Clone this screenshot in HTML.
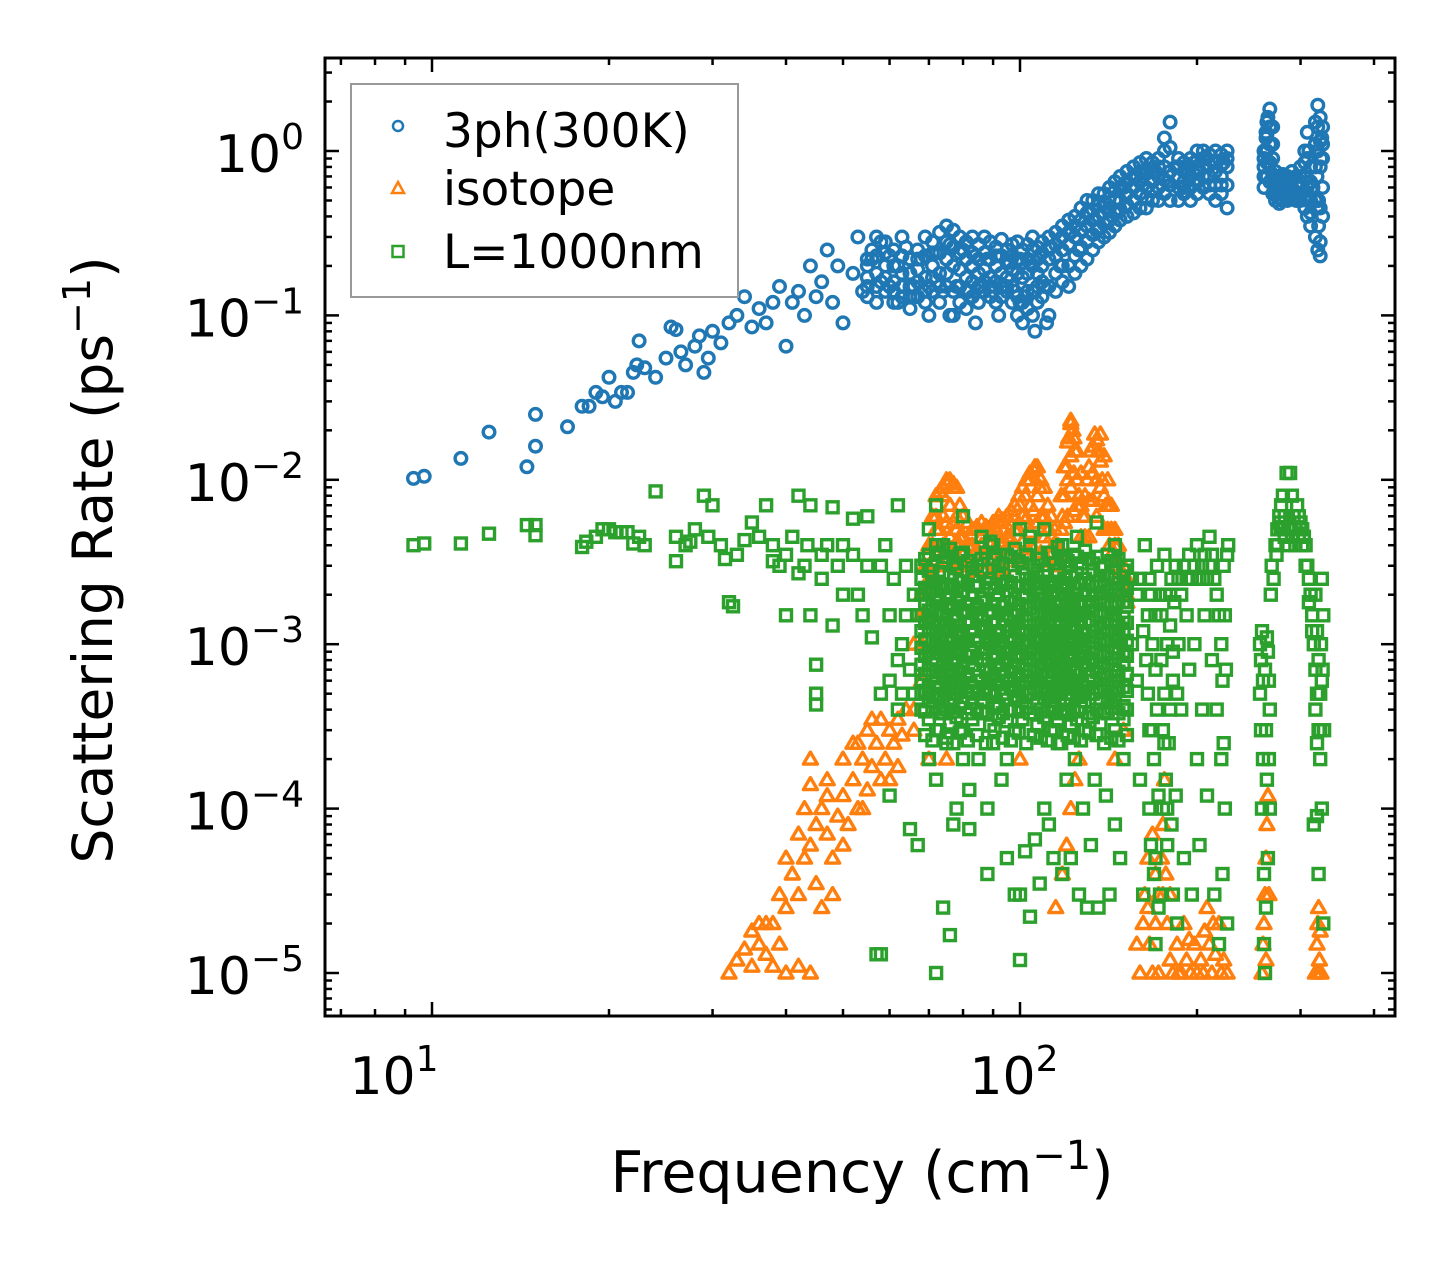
<!DOCTYPE html>
<html><head><meta charset="utf-8"><style>
html,body{margin:0;padding:0;background:#fff;}
svg{display:block;font-family:"DejaVu Sans","Liberation Sans",sans-serif;}
</style></head><body>
<svg id="chart" width="1455" height="1265" viewBox="0 0 1455 1265" xmlns="http://www.w3.org/2000/svg">
<rect x="0" y="0" width="1455" height="1265" fill="#fff"/>
<g id="marks"></g>
<g id="axes"></g>
<text x="862" y="1192" font-size="57" text-anchor="middle">Frequency (cm<tspan font-size="40" dy="-23">−1</tspan><tspan dy="23">)</tspan></text>
<text transform="translate(112,560) rotate(-90)" font-size="55" text-anchor="middle">Scattering Rate (ps<tspan font-size="38" dy="-22">−1</tspan><tspan dy="22">)</tspan></text>
<g>
<rect x="351" y="84" width="387" height="213" fill="#fff" fill-opacity="0.8" stroke="#999" stroke-width="2"/>
<circle cx="398" cy="126" r="5" fill="none" stroke="#1f77b4" stroke-width="2.5"/>
<text x="443" y="147" font-size="47">3ph(300K)</text>
<path d="M398,182 L404,193 L392,193 Z" fill="none" stroke="#ff7f0e" stroke-width="2.5"/>
<text x="443" y="205" font-size="47">isotope</text>
<rect x="392.5" y="246" width="11" height="11" fill="none" stroke="#2ca02c" stroke-width="2.5"/>
<text x="443" y="268" font-size="47">L=1000nm</text>
</g>
</svg>
<script>
// ---- data ----
const freq3phSparse=[9.3,9.7,11.2,12.5,14.5,15,15,17,18,18.5,19,19.5,20,20.5,21,21.5,22,22.3,22.5,23,24,25,25.5,26,26.5,27,28,28.5,29,29.5,30,31,32,33,34,35,36,37,38,39,40,41,42,43,44,45,46,47,48,49,50,52,53,54,56,58,60,62];
const rate3phSparse=[0.0102,0.0105,0.0135,0.0195,0.012,0.016,0.025,0.021,0.028,0.028,0.034,0.032,0.042,0.03,0.034,0.034,0.045,0.05,0.07,0.048,0.042,0.055,0.085,0.082,0.06,0.05,0.065,0.075,0.045,0.055,0.08,0.068,0.09,0.1,0.13,0.085,0.11,0.09,0.12,0.15,0.065,0.12,0.14,0.1,0.2,0.13,0.16,0.25,0.12,0.2,0.09,0.18,0.3,0.14,0.22,0.28,0.15,0.12];
const freq3phBand=[55,57,59,61,63,65,67,69,71,73,75,77,79,81,83,85,87,89,91,93,95,97,99,101,103,105,107,109,112,115,118,121,124,127,130,133,136,139,142,145,148,152,156,160,164,168,172,176,180,186,190,195,200,205,210,215,220,225,260,263,266,269,272,276,280,285,290,295,300,305,308,312,318,321,324,327];
const rate3phHigh=[0.22,0.3,0.28,0.25,0.3,0.22,0.25,0.3,0.28,0.32,0.35,0.33,0.3,0.28,0.3,0.27,0.3,0.28,0.26,0.29,0.25,0.27,0.28,0.25,0.27,0.3,0.26,0.28,0.3,0.32,0.35,0.38,0.4,0.45,0.5,0.5,0.55,0.55,0.6,0.65,0.7,0.75,0.8,0.85,0.9,0.85,0.9,1.2,1.5,0.9,0.85,0.9,1.0,1.0,0.95,1.0,0.95,1.0,1.0,1.5,1.8,1.4,0.75,0.7,0.72,0.7,0.75,0.7,0.8,1.0,1.3,0.8,1.5,1.9,1.6,1.4];
const rate3phUpperMid=[0.2,0.23,0.24,0.2,0.23,0.18,0.22,0.23,0.24,0.24,0.28,0.26,0.24,0.22,0.24,0.22,0.24,0.22,0.23,0.23,0.21,0.23,0.22,0.21,0.22,0.25,0.22,0.24,0.26,0.27,0.3,0.32,0.35,0.38,0.42,0.44,0.47,0.49,0.52,0.57,0.6,0.65,0.7,0.75,0.73,0.75,0.8,1.0,1.05,0.8,0.75,0.8,0.87,0.9,0.82,0.87,0.82,0.9,0.9,1.25,1.4,1.1,0.67,0.62,0.66,0.62,0.67,0.62,0.7,0.85,0.9,0.65,1.1,1.4,1.15,1.1];
const rate3phMid=[0.17,0.18,0.2,0.16,0.18,0.15,0.19,0.17,0.2,0.18,0.22,0.2,0.19,0.17,0.2,0.18,0.19,0.17,0.2,0.18,0.17,0.19,0.18,0.17,0.18,0.2,0.18,0.2,0.22,0.23,0.25,0.27,0.3,0.33,0.35,0.38,0.4,0.42,0.45,0.5,0.5,0.55,0.6,0.65,0.6,0.65,0.7,0.8,0.75,0.7,0.65,0.7,0.75,0.8,0.7,0.75,0.7,0.8,0.8,1.0,1.1,0.9,0.6,0.55,0.6,0.55,0.6,0.55,0.6,0.7,0.6,0.5,0.8,1.0,0.8,0.9];
const rate3phLowerMid=[0.15,0.15,0.17,0.14,0.15,0.13,0.16,0.14,0.17,0.15,0.18,0.14,0.15,0.14,0.16,0.15,0.16,0.15,0.16,0.15,0.15,0.15,0.13,0.12,0.14,0.14,0.15,0.16,0.15,0.18,0.2,0.2,0.23,0.26,0.28,0.31,0.34,0.36,0.38,0.42,0.44,0.47,0.5,0.55,0.52,0.57,0.6,0.67,0.62,0.6,0.6,0.6,0.65,0.7,0.62,0.62,0.62,0.62,0.7,0.85,0.85,0.72,0.55,0.52,0.55,0.52,0.56,0.52,0.55,0.57,0.5,0.42,0.5,0.5,0.45,0.6];
const rate3phLow=[0.13,0.12,0.14,0.12,0.13,0.11,0.13,0.12,0.14,0.12,0.15,0.1,0.12,0.11,0.13,0.12,0.14,0.13,0.12,0.13,0.14,0.12,0.1,0.09,0.11,0.1,0.12,0.13,0.1,0.14,0.16,0.15,0.18,0.2,0.22,0.25,0.28,0.3,0.32,0.35,0.38,0.4,0.42,0.45,0.45,0.5,0.5,0.55,0.5,0.5,0.55,0.5,0.55,0.6,0.55,0.5,0.55,0.45,0.6,0.7,0.65,0.55,0.5,0.48,0.5,0.5,0.52,0.5,0.5,0.45,0.4,0.35,0.3,0.25,0.28,0.4];
const freq3phExtra=[56,60,64,68,72,76,80,84,88,92,96,100,104,108,113,117,122,126,131,135,140,146,150,158,165,170,178,184,192,198,207,213,222,262,270,300,315,320,326,322,324,76,84,92,100,106,111,66,70,58,62,66,70,74,78,82,86,90,94,98,102,106,110,262,264,266,310,314,318,320,322,325];
const rate3phExtra=[0.25,0.23,0.26,0.22,0.24,0.27,0.25,0.23,0.22,0.23,0.21,0.22,0.21,0.23,0.26,0.2,0.32,0.25,0.42,0.33,0.48,0.42,0.6,0.7,0.75,0.75,0.65,0.8,0.75,0.85,0.9,0.85,0.85,1.2,0.7,0.65,0.6,0.45,1.2,0.35,0.23,0.1,0.09,0.1,0.12,0.08,0.09,0.13,0.1,0.16,0.2,0.15,0.15,0.14,0.15,0.14,0.15,0.14,0.15,0.14,0.13,0.14,0.15,1.3,1.6,0.85,1.0,0.6,1.1,0.7,0.5,0.9];

const freqIso=[32,33,34,35,36,37,38,38,39,40,40,41,42,42,43,43,44,44,45,45,46,47,47,48,49,50,50,51,52,53,53,54,55,55,56,57,58,58,59,60,61,62,63,64,40,42,44,46,48,37,39,36,35,44,47,52,56,60,62,50,54,68,70,72,74,75,76,77,78,79,80,82,84,86,88,90,92,94,96,98,100,102,104,106,108,110,112,114,116,118,120,121,122,123,124,125,126,128,130,132,134,136,138,140,142,144,66,68,66,66,70,75,100,115,118,120,122,124,126,145,150,158,160,162,163,165,166,168,170,172,174,175,176,177,178,180,182,185,188,190,192,195,198,200,203,206,208,210,212,215,218,220,222,225,165,170,175,180,168,172,186,194,205,213,258,259,260,261,262,263,264,262,265,318,320,321,322,323,324,325,322];
const rateIso=[1e-5,1.2e-5,1.4e-5,1.1e-5,2e-5,1.3e-5,2e-5,1.1e-5,3e-5,2.5e-5,5e-5,4e-5,7e-5,3e-5,1e-4,5e-5,1.4e-4,6e-5,8e-5,3.5e-5,1e-4,7e-5,1.5e-4,5e-5,9e-5,1.2e-4,2e-4,8e-5,1.5e-4,2.5e-4,1e-4,2e-4,3e-4,1.3e-4,1.8e-4,2.5e-4,3.5e-4,1.5e-4,2e-4,3e-4,2.5e-4,3.5e-4,2.8e-4,4e-4,1e-5,1.1e-5,1e-5,2.5e-5,3e-5,2e-5,1.5e-5,1.5e-5,1.8e-5,2e-4,1.2e-4,2.5e-4,3.5e-4,1.5e-4,1.8e-4,6e-5,1e-4,1.5e-3,3e-3,6e-3,8e-3,1e-2,7e-3,9e-3,5e-3,4e-3,3e-3,4e-3,5e-3,4.5e-3,5e-3,5.5e-3,6e-3,5e-3,4.5e-3,6e-3,7e-3,8e-3,1e-2,1.2e-2,9e-3,6e-3,5e-3,4e-3,3e-3,6e-3,1.2e-2,1.8e-2,2.3e-2,2e-2,1.5e-2,1e-2,8e-3,6e-3,1e-2,1.5e-2,1.9e-2,1.5e-2,1e-2,7e-3,4e-3,3e-3,1e-3,6e-4,4e-4,3e-4,2e-4,2e-4,2e-4,2.5e-5,4e-5,6e-5,1e-4,1.5e-4,2e-4,2e-4,3e-4,1.5e-5,1e-5,2e-5,3e-5,5e-5,1.5e-5,1e-5,2e-5,1e-5,5e-5,8e-5,1.5e-4,4e-5,2e-5,1.2e-5,1e-5,1.5e-5,1e-5,2e-5,1.2e-5,1e-5,1.5e-5,1e-5,1.2e-5,1.8e-5,2.5e-5,1.5e-5,1e-5,1.3e-5,2e-5,1e-5,1.2e-5,1e-5,2.5e-5,4e-5,3e-5,3e-5,7e-5,3e-5,1e-5,1.6e-5,1e-5,2e-5,1e-5,1.5e-5,2e-5,3e-5,5e-5,8e-5,1.2e-4,1.2e-5,3e-5,1e-5,1.5e-5,2e-5,2.5e-5,1.2e-5,1.8e-5,1e-5,1e-5];
const bandFreq=[68,70,72,74,76,78,80,83,86,89,92,95,98,101,104,107,110,113,116,119,122,125,129,133,137,141,145,150];
const bandFreqB=[69,71,73,75,77,79,81.5,84.5,87.5,90.5,93.5,96.5,99.5,102.5,105.5,108.5,111.5,114.5,117.5,120.5,123.5,127,131,135,139,143,147,152];
const isoTop=[2e-3,4e-3,8e-3,9e-3,1e-2,9e-3,6e-3,5e-3,5.5e-3,5e-3,5.5e-3,6e-3,7e-3,9e-3,1.1e-2,1.2e-2,9e-3,6e-3,4e-3,1.2e-2,2.2e-2,1.5e-2,8e-3,1.6e-2,1.9e-2,1e-2,5e-3,3e-3];
const isoMid=[1.5e-3,3e-3,5e-3,6e-3,7e-3,6e-3,4.5e-3,4e-3,4e-3,4e-3,4.2e-3,4.5e-3,5e-3,6e-3,7e-3,8e-3,6e-3,4.5e-3,3.5e-3,8e-3,1.4e-2,1e-2,6e-3,1.1e-2,1.3e-2,7e-3,4e-3,2.5e-3];
const isoLow=[1e-3,2.5e-3,3.5e-3,4e-3,4.5e-3,4e-3,3.5e-3,3.2e-3,3.2e-3,3.2e-3,3.3e-3,3.5e-3,3.8e-3,4.2e-3,4.8e-3,5.5e-3,4.5e-3,3.5e-3,3e-3,5.5e-3,9e-3,7e-3,4.5e-3,7.5e-3,9e-3,5e-3,3.2e-3,2e-3];
const isoB1=[3e-3,6e-3,8.5e-3,9.5e-3,9.5e-3,7e-3,5.5e-3,5.2e-3,5.2e-3,5.2e-3,5.7e-3,6.5e-3,8e-3,1e-2,1.15e-2,1e-2,7e-3,5e-3,8e-3,1.7e-2,1.8e-2,1.1e-2,1.2e-2,1.75e-2,1.4e-2,7e-3,4e-3,2.5e-3];
const isoB2=[2e-3,4e-3,5e-3,5.5e-3,5.5e-3,4.5e-3,4e-3,3.8e-3,3.8e-3,3.8e-3,4e-3,4.3e-3,5e-3,5.8e-3,6.5e-3,6e-3,5e-3,4e-3,5e-3,1e-2,1.1e-2,7e-3,7.5e-3,1e-2,8e-3,5e-3,3e-3,2e-3];
const isoB3=[1.5e-3,2.5e-3,3e-3,3.2e-3,3.2e-3,3e-3,2.8e-3,2.8e-3,2.8e-3,2.8e-3,2.9e-3,3e-3,3.2e-3,3.5e-3,3.8e-3,3.6e-3,3.2e-3,3e-3,3.5e-3,6e-3,6.5e-3,4.5e-3,4.5e-3,6e-3,5e-3,3.5e-3,2.5e-3,1.8e-3];

const freqBdy=[9.3,9.7,11.2,12.5,14.5,15,15,18,18.3,19,19.5,20,20.5,21,21.5,22,22.5,23,24,26,26,27,27.5,28,29,29.5,30,31,31.5,32,32.5,33,34,35,36,37,38,38,39,40,40,41,42,42,43,43.5,44,44,45,45,45,46,46,47,48,48,49,50,50,52,52,53,54,55,55,56,57,58,58,59,60,60,61,62,62,63,63,64,65,65,66,67,
70,72,75,78,80,82,85,88,90,93,95,98,100,102,104,106,108,110,112,114,116,118,120,122,124,126,128,130,132,134,136,140,142,145,148,150,74,76,58,72,100,68,70,72,74,80,86,90,100,104,110,118,125,135,145,66,67,80,60,62,64,82,95,77,88,
152,155,155,158,158,160,160,162,162,163,164,165,165,166,166,167,167,168,168,169,169,170,170,170,171,171,172,172,173,174,175,175,176,176,177,177,178,178,179,180,180,181,181,182,182,183,184,184,186,186,188,188,190,190,192,192,194,194,196,196,198,198,200,200,202,202,204,204,206,206,208,208,210,210,212,212,214,214,216,216,218,218,220,220,221,221,222,222,223,223,224,225,225,226,166,174,180,182,185,176,170,173,178,185,
256,256,257,257,258,258,259,259,260,260,261,261,262,262,263,263,264,264,265,265,266,266,267,268,270,
272,274,276,278,280,282,284,286,288,290,292,294,296,298,300,302,304,306,308,310,312,314,316,318,320,322,324,326,328,328,274,278,282,286,290,294,298,302,306,310,314,318,320,322,324,326,318,320,316,320,322,324,326,325,327,329,273,277,281];
const rateBdy=[4e-3,4.1e-3,4.1e-3,4.7e-3,5.3e-3,4.6e-3,5.3e-3,3.9e-3,4.2e-3,4.5e-3,5e-3,5e-3,4.8e-3,4.8e-3,4.8e-3,4.1e-3,4.5e-3,4e-3,8.5e-3,4.5e-3,3.2e-3,4e-3,4.2e-3,5e-3,8e-3,4.5e-3,7e-3,4e-3,3.3e-3,1.8e-3,1.7e-3,3.5e-3,4.3e-3,5.5e-3,4.5e-3,7e-3,3.2e-3,4e-3,3e-3,1.5e-3,3.5e-3,4.5e-3,2.7e-3,8e-3,3e-3,4e-3,7e-3,1.5e-3,7.5e-4,5e-4,4.3e-4,2.5e-3,3.5e-3,4e-3,6.8e-3,1.3e-3,3e-3,4e-3,2e-3,5.8e-3,3.5e-3,2e-3,1.5e-3,6e-3,3e-3,1.1e-3,1.3e-5,3e-3,5e-4,4e-3,1.5e-3,1.2e-4,2.5e-3,4e-4,7e-3,1e-3,5e-4,3e-3,7e-4,7.5e-5,2e-3,6e-5,
2e-4,1.5e-4,2.5e-4,1e-4,3e-4,1.3e-4,2e-4,1e-4,2.5e-4,1.5e-4,2e-4,3e-5,1.2e-5,5.5e-5,2.2e-5,6.5e-5,3.5e-5,1e-4,8e-5,5e-5,2.5e-4,4e-5,1.5e-4,5e-5,2e-4,3e-5,1e-4,2.5e-5,6e-5,1.5e-4,2.5e-5,1.2e-4,3e-5,8e-5,5e-5,2e-4,2.5e-5,1.7e-5,1.3e-5,1e-5,3e-5,3e-3,5e-3,7e-3,4e-3,6e-3,4.5e-3,4e-3,5e-3,4e-3,5e-3,4e-3,4.5e-3,5.5e-3,4e-3,5e-4,1.5e-3,2e-4,6e-4,8e-4,1.5e-3,7.5e-5,5e-5,8e-5,4e-5,
3e-3,2.5e-3,1e-3,2e-3,6e-4,2.5e-3,1.5e-4,1.2e-3,3e-5,4e-3,8e-4,1.5e-3,5e-4,3e-4,1e-4,2e-3,6e-5,1e-3,3e-4,2e-4,4e-5,1.5e-3,7e-4,1.5e-5,3e-3,4e-4,1.2e-4,2.5e-5,2e-3,8e-4,3e-4,1e-4,5e-4,3.5e-3,2e-3,1.5e-4,1e-3,6e-5,2.5e-4,4e-4,1.3e-3,2.5e-3,8e-5,6e-4,3e-5,1.8e-3,3e-3,1.2e-4,2.5e-3,1e-3,2e-3,4e-4,3e-3,5e-5,2.5e-3,1.5e-3,3.5e-3,7e-4,2.5e-3,3e-5,3e-3,1e-3,4e-3,2e-4,2.5e-3,6e-5,3e-3,4e-4,3.5e-3,1.5e-3,2.5e-3,1.2e-4,4.5e-3,3e-3,3.5e-3,8e-4,2.5e-3,3e-5,2e-3,4e-4,1.5e-3,1.5e-5,1e-3,2e-4,6e-4,4e-5,3e-3,2.5e-4,1.5e-3,1e-4,7e-4,3.5e-3,2e-5,4e-3,2.5e-3,1.5e-3,2e-3,9e-4,5e-4,2.5e-4,5e-5,3e-5,1e-4,2e-5,
1e-3,5e-4,8e-4,3e-4,1e-4,1.2e-3,6e-4,2e-4,4e-5,1.5e-5,7e-4,1e-5,3e-4,2.5e-5,1.5e-4,1.1e-3,5e-5,9e-4,2e-4,6e-4,1e-4,4e-4,2e-3,3e-3,2.5e-3,
4e-3,5e-3,6e-3,7e-3,8e-3,6e-3,1.1e-2,5e-3,1.1e-2,8e-3,6e-3,5e-3,7e-3,6e-3,5.5e-3,5e-3,4.5e-3,4e-3,3e-3,2.5e-3,2e-3,1.5e-3,1e-3,7e-4,5e-4,3e-4,2e-4,1e-4,1.5e-3,2e-5,4e-3,5e-3,4.5e-3,4e-3,4.5e-3,4e-3,4.5e-3,4e-3,3e-3,1.8e-3,1.2e-3,2e-3,1.2e-3,8e-4,5e-4,6e-4,4e-4,2.5e-4,8e-5,9e-5,4e-5,3e-4,2.5e-3,1e-3,7e-4,3e-4,3.5e-3,5.5e-3,5e-3];
const bdyRow1=[3.0e-3,3.5e-3,4.0e-3,3.2e-3,3.8e-3,3.1e-3,3.6e-3,2.9e-3,3.3e-3,4.2e-3,3.0e-3,3.5e-3,3.8e-3,3.1e-3,4.5e-3,3.3e-3,2.8e-3,3.6e-3,3.9e-3,3.2e-3,3.0e-3,3.4e-3,3.7e-3,3.1e-3,2.9e-3,3.5e-3,3.2e-3,2.8e-3];
const bdyRow2=[2.5e-3,2.8e-3,2.4e-3,2.7e-3,2.6e-3,2.9e-3,2.4e-3,2.6e-3,2.8e-3,2.5e-3,2.7e-3,2.4e-3,2.6e-3,2.9e-3,2.5e-3,2.7e-3,2.6e-3,2.4e-3,2.8e-3,2.5e-3,2.6e-3,2.7e-3,2.5e-3,2.8e-3,2.4e-3,2.6e-3,2.5e-3,2.3e-3];
const bdyRow3=[2.0e-3,2.1e-3,1.9e-3,2.2e-3,2.0e-3,1.9e-3,2.1e-3,2.0e-3,1.9e-3,2.2e-3,2.0e-3,2.1e-3,1.9e-3,2.0e-3,2.2e-3,2.0e-3,1.9e-3,2.1e-3,2.0e-3,2.2e-3,1.9e-3,2.0e-3,2.1e-3,2.0e-3,1.9e-3,2.1e-3,2.0e-3,1.8e-3];
const bdyRow4=[1.5e-3,1.6e-3,1.55e-3,1.5e-3,1.65e-3,1.5e-3,1.6e-3,1.55e-3,1.5e-3,1.6e-3,1.55e-3,1.5e-3,1.6e-3,1.5e-3,1.65e-3,1.55e-3,1.5e-3,1.6e-3,1.55e-3,1.5e-3,1.6e-3,1.5e-3,1.55e-3,1.6e-3,1.5e-3,1.55e-3,1.5e-3,1.45e-3];
const bdyRow5=[1.2e-3,1.25e-3,1.15e-3,1.2e-3,1.25e-3,1.2e-3,1.15e-3,1.2e-3,1.25e-3,1.2e-3,1.15e-3,1.2e-3,1.25e-3,1.2e-3,1.15e-3,1.2e-3,1.25e-3,1.2e-3,1.15e-3,1.2e-3,1.25e-3,1.2e-3,1.15e-3,1.2e-3,1.25e-3,1.2e-3,1.15e-3,1.2e-3];
const bdyRow6=[9.5e-4,9e-4,1e-3,9.5e-4,9e-4,9.5e-4,1e-3,9e-4,9.5e-4,1e-3,9.5e-4,9e-4,9.5e-4,1e-3,9e-4,9.5e-4,9.5e-4,1e-3,9e-4,9.5e-4,1e-3,9.5e-4,9e-4,9.5e-4,1e-3,9e-4,9.5e-4,9e-4];
const bdyRow7=[7.5e-4,7e-4,8e-4,7.5e-4,7e-4,7.8e-4,7.2e-4,7.5e-4,8e-4,7e-4,7.5e-4,7.8e-4,7.2e-4,7.5e-4,8e-4,7e-4,7.5e-4,7.8e-4,7.2e-4,7.5e-4,8e-4,7e-4,7.5e-4,7.8e-4,7.2e-4,7.5e-4,7e-4,7.5e-4];
const bdyRow8=[6e-4,5.5e-4,5.8e-4,6.2e-4,5.6e-4,6e-4,5.8e-4,5.5e-4,6e-4,6.2e-4,5.7e-4,6e-4,5.5e-4,5.8e-4,6e-4,6.2e-4,5.5e-4,5.8e-4,6e-4,5.6e-4,6e-4,5.8e-4,5.5e-4,6e-4,6.2e-4,5.7e-4,6e-4,5.5e-4];
const bdyRow9=[5e-4,4.5e-4,4.8e-4,4.2e-4,4.6e-4,5e-4,4.4e-4,4.7e-4,4.5e-4,5e-4,4.3e-4,4.6e-4,4.8e-4,4.5e-4,5e-4,4.4e-4,4.7e-4,4.5e-4,5e-4,4.3e-4,4.6e-4,4.8e-4,4.5e-4,5e-4,4.4e-4,4.7e-4,4.5e-4,4.2e-4];
const bdyRow10=[4e-4,3.5e-4,3e-4,3.8e-4,3.3e-4,3.6e-4,3e-4,3.5e-4,3.8e-4,3.2e-4,3.6e-4,3.4e-4,3e-4,3.5e-4,3.8e-4,3.2e-4,3.6e-4,3e-4,3.4e-4,3.8e-4,3.2e-4,3.5e-4,3e-4,3.6e-4,3.3e-4,3.8e-4,3e-4,3.5e-4];
const bdyRowB1=[3.3e-3,3.0e-3,3.6e-3,3.4e-3,3.1e-3,3.5e-3,3.2e-3,3.0e-3,3.6e-3,3.3e-3,3.1e-3,3.4e-3,3.2e-3,3.5e-3,3.0e-3,3.3e-3,3.6e-3,3.1e-3,3.4e-3,3.2e-3,3.5e-3,3.1e-3,3.3e-3,3.4e-3,3.0e-3,3.2e-3,3.3e-3,3.0e-3];
const bdyRowB2=[2.2e-3,2.35e-3,2.25e-3,2.3e-3,2.2e-3,2.4e-3,2.3e-3,2.25e-3,2.35e-3,2.2e-3,2.3e-3,2.35e-3,2.25e-3,2.3e-3,2.4e-3,2.2e-3,2.3e-3,2.25e-3,2.35e-3,2.3e-3,2.2e-3,2.35e-3,2.3e-3,2.25e-3,2.3e-3,2.2e-3,2.35e-3,2.2e-3];
const bdyRowB3=[1.75e-3,1.7e-3,1.8e-3,1.75e-3,1.7e-3,1.8e-3,1.75e-3,1.7e-3,1.8e-3,1.75e-3,1.7e-3,1.8e-3,1.75e-3,1.7e-3,1.8e-3,1.75e-3,1.7e-3,1.8e-3,1.75e-3,1.7e-3,1.8e-3,1.75e-3,1.7e-3,1.8e-3,1.75e-3,1.7e-3,1.8e-3,1.7e-3];
const bdyRowB4=[1.35e-3,1.4e-3,1.3e-3,1.35e-3,1.4e-3,1.3e-3,1.35e-3,1.4e-3,1.3e-3,1.35e-3,1.4e-3,1.3e-3,1.35e-3,1.4e-3,1.3e-3,1.35e-3,1.4e-3,1.3e-3,1.35e-3,1.4e-3,1.3e-3,1.35e-3,1.4e-3,1.3e-3,1.35e-3,1.4e-3,1.3e-3,1.35e-3];
const bdyRowB5=[1.07e-3,1.05e-3,1.1e-3,1.07e-3,1.04e-3,1.1e-3,1.07e-3,1.05e-3,1.1e-3,1.07e-3,1.04e-3,1.1e-3,1.07e-3,1.05e-3,1.1e-3,1.07e-3,1.04e-3,1.1e-3,1.07e-3,1.05e-3,1.1e-3,1.07e-3,1.04e-3,1.1e-3,1.07e-3,1.05e-3,1.1e-3,1.05e-3];
const bdyRowB6=[8.5e-4,8.2e-4,8.8e-4,8.5e-4,8.2e-4,8.8e-4,8.5e-4,8.2e-4,8.8e-4,8.5e-4,8.2e-4,8.8e-4,8.5e-4,8.2e-4,8.8e-4,8.5e-4,8.2e-4,8.8e-4,8.5e-4,8.2e-4,8.8e-4,8.5e-4,8.2e-4,8.8e-4,8.5e-4,8.2e-4,8.8e-4,8.5e-4];
const bdyRowB7=[6.6e-4,6.4e-4,6.8e-4,6.6e-4,6.4e-4,6.8e-4,6.6e-4,6.4e-4,6.8e-4,6.6e-4,6.4e-4,6.8e-4,6.6e-4,6.4e-4,6.8e-4,6.6e-4,6.4e-4,6.8e-4,6.6e-4,6.4e-4,6.8e-4,6.6e-4,6.4e-4,6.8e-4,6.6e-4,6.4e-4,6.8e-4,6.6e-4];
const bdyRowB8=[5.2e-4,5e-4,5.4e-4,5.2e-4,5e-4,5.4e-4,5.2e-4,5e-4,5.4e-4,5.2e-4,5e-4,5.4e-4,5.2e-4,5e-4,5.4e-4,5.2e-4,5e-4,5.4e-4,5.2e-4,5e-4,5.4e-4,5.2e-4,5e-4,5.4e-4,5.2e-4,5e-4,5.4e-4,5.2e-4];
const bdyRowB9=[3.9e-4,4.1e-4,3.8e-4,4e-4,3.9e-4,4.1e-4,3.8e-4,4e-4,3.9e-4,4.1e-4,3.8e-4,4e-4,3.9e-4,4.1e-4,3.8e-4,4e-4,3.9e-4,4.1e-4,3.8e-4,4e-4,3.9e-4,4.1e-4,3.8e-4,4e-4,3.9e-4,4.1e-4,3.8e-4,4e-4];
const bdyRowB10=[2.8e-4,2.6e-4,3e-4,2.7e-4,2.5e-4,2.9e-4,2.6e-4,2.8e-4,2.5e-4,3e-4,2.7e-4,2.6e-4,2.9e-4,2.5e-4,2.8e-4,2.7e-4,2.6e-4,3e-4,2.5e-4,2.8e-4,2.7e-4,2.6e-4,2.9e-4,2.8e-4,2.5e-4,2.7e-4,2.6e-4,2.8e-4];

const xMajorTicks=[10,100];
const xTickLabels=["1","2"];
const yMajorExps=[0,-1,-2,-3,-4,-5];

// ---- scales ----
const PL=325,PR=1395,PT=58,PB=1016;
function X(f){return 432+588*(Math.log10(f)-1);}
function Y(r){return 151-164.4*Math.log10(r);}
const NS="http://www.w3.org/2000/svg";
const marks=document.getElementById('marks');
const axes=document.getElementById('axes');
function mk(tag,attrs,parent){const e=document.createElementNS(NS,tag);for(const k in attrs)e.setAttribute(k,attrs[k]);parent.appendChild(e);return e;}

const gBlue=mk('g',{fill:'none',stroke:'#1f77b4','stroke-width':3.4},marks);


const gOrange=mk('g',{fill:'none',stroke:'#ff7f0e','stroke-width':3.4,'stroke-linejoin':'round'},marks);


const gGreen=mk('g',{fill:'none',stroke:'#2ca02c','stroke-width':3.4},marks);



function circ(f,r){const c=mk('circle',{cx:X(f).toFixed(1),cy:Y(r).toFixed(1),r:5.8},gBlue);

}
function tri(f,r){const x=X(f),y=Y(r);const p=mk('path',{d:'M'+x.toFixed(1)+','+(y-7).toFixed(1)+'L'+(x+7).toFixed(1)+','+(y+5).toFixed(1)+'L'+(x-7).toFixed(1)+','+(y+5).toFixed(1)+'Z'},gOrange);

}
function sq(f,r){const s=mk('rect',{x:(X(f)-5.5).toFixed(1),y:(Y(r)-5.5).toFixed(1),width:11,height:11},gGreen);

}

freq3phSparse.forEach((f,i)=>circ(f,rate3phSparse[i]));
[rate3phHigh,rate3phUpperMid,rate3phMid,rate3phLowerMid,rate3phLow].forEach(arr=>freq3phBand.forEach((f,i)=>circ(f,arr[i])));
freq3phExtra.forEach((f,i)=>circ(f,rate3phExtra[i]));
freqIso.forEach((f,i)=>tri(f,rateIso[i]));
[isoTop,isoMid,isoLow].forEach(arr=>bandFreq.forEach((f,i)=>tri(f,arr[i])));
[isoB1,isoB2,isoB3].forEach(arr=>bandFreqB.forEach((f,i)=>tri(f,arr[i])));
[bdyRow1,bdyRow2,bdyRow3,bdyRow4,bdyRow5,bdyRow6,bdyRow7,bdyRow8,bdyRow9,bdyRow10].forEach(arr=>bandFreq.forEach((f,i)=>sq(f,arr[i])));
[bdyRowB1,bdyRowB2,bdyRowB3,bdyRowB4,bdyRowB5,bdyRowB6,bdyRowB7,bdyRowB8,bdyRowB9,bdyRowB10].forEach(arr=>bandFreqB.forEach((f,i)=>sq(f,arr[i])));
freqBdy.forEach((f,i)=>sq(f,rateBdy[i]));

// ---- axes ----
const frame=mk('rect',{x:PL,y:PT,width:PR-PL,height:PB-PT,fill:'none',stroke:'#000','stroke-width':3},axes);


const tk=mk('g',{stroke:'#000','stroke-width':2.5},axes);


for(let d=0;d<3;d++){for(let m=1;m<10;m++){const f=m*Math.pow(10,d);const x=X(f);if(x<PL+1||x>PR-1)continue;const L=(m===1)?14:7;
mk('line',{x1:x,y1:PB,x2:x,y2:PB-L},tk);mk('line',{x1:x,y1:PT,x2:x,y2:PT+L},tk);}}
for(let e=-6;e<=1;e++){for(let m=1;m<10;m++){const r=m*Math.pow(10,e);const y=Y(r);if(y<PT+1||y>PB-1)continue;const L=(m===1)?14:7;
mk('line',{x1:PL,y1:y,x2:PL+L,y2:y},tk);mk('line',{x1:PR,y1:y,x2:PR-L,y2:y},tk);}}
xMajorTicks.forEach((f,i)=>{const t=mk('text',{x:X(f)-(i===0?38:6),y:1094,'font-size':52,'text-anchor':'middle'},axes);


t.textContent='10';
const s=mk('tspan',{'font-size':36,dy:-23},t);
s.textContent=xTickLabels[i];});
yMajorExps.forEach(e=>{const t=mk('text',{x:304,y:Y(Math.pow(10,e))+21,'font-size':52,'text-anchor':'end'},axes);


t.textContent='10';
const s=mk('tspan',{'font-size':36,dy:-23},t);
s.textContent=(e===0?'0':'\u2212'+(-e));});
</script>
</body></html>
